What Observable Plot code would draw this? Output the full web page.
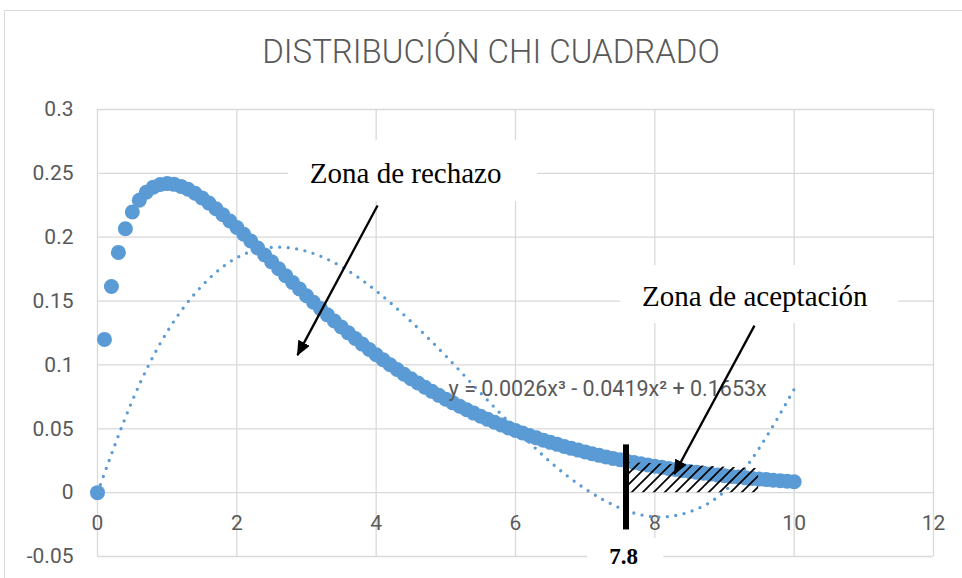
<!DOCTYPE html>
<html>
<head>
<meta charset="utf-8">
<script src="https://cdn.jsdelivr.net/npm/d3@7"></script>
<script src="https://cdn.jsdelivr.net/npm/@observablehq/plot@0.6"></script>
<style>
  body { margin: 0; background: #fff; }
  #wrap { position: relative; width: 962px; height: 578px; overflow: hidden; background: #fff; }
  #frame { position: absolute; left: 4px; top: 10px; width: 1000px; height: 1000px; border: 1px solid #d9d9d9; box-sizing: border-box; pointer-events: none; }
  #title { height: 90px; line-height: 104px; padding-left: 20px; box-sizing: border-box; text-align: center; font-family: Roboto, sans-serif; font-weight: 300; font-size: 33px; color: #595959; white-space: nowrap; }
  #chart svg { display: block; }
</style>
</head>
<body>
<div id="wrap">
  <div id="frame"></div>
  <div id="title">DISTRIBUCIÓN CHI CUADRADO</div>
  <div id="chart"></div>
</div>
<script>
// ---- data ----
const chiX = [0,0.1,0.2,0.3,0.4,0.5,0.6,0.7,0.8,0.9,1,
  1.1,1.2,1.3,1.4,1.5,1.6,1.7,1.8,1.9,2,
  2.1,2.2,2.3,2.4,2.5,2.6,2.7,2.8,2.9,3,
  3.1,3.2,3.3,3.4,3.5,3.6,3.7,3.8,3.9,4,
  4.1,4.2,4.3,4.4,4.5,4.6,4.7,4.8,4.9,5,
  5.1,5.2,5.3,5.4,5.5,5.6,5.7,5.8,5.9,6,
  6.1,6.2,6.3,6.4,6.5,6.6,6.7,6.8,6.9,7,
  7.1,7.2,7.3,7.4,7.5,7.6,7.7,7.8,7.9,8,
  8.1,8.2,8.3,8.4,8.5,8.6,8.7,8.8,8.9,9,
  9.1,9.2,9.3,9.4,9.5,9.6,9.7,9.8,9.9,10];
const chiY = [0,0.1200,0.1614,0.1881,0.2066,0.2197,0.2289,0.2352,0.2392,0.2413,0.2420,
  0.2414,0.2398,0.2375,0.2344,0.2308,0.2267,0.2223,0.2176,0.2127,0.2076,
  0.2023,0.1970,0.1916,0.1861,0.1807,0.1753,0.1699,0.1646,0.1594,0.1542,
  0.1491,0.1441,0.1392,0.1344,0.1297,0.1251,0.1207,0.1163,0.1121,0.1080,
  0.1040,0.1001,0.0964,0.0927,0.0892,0.0858,0.0825,0.0793,0.0762,0.0732,
  0.0703,0.0676,0.0649,0.0623,0.0598,0.0574,0.0551,0.0529,0.0507,0.0487,
  0.0467,0.0447,0.0429,0.0411,0.0394,0.0378,0.0362,0.0347,0.0333,0.0319,
  0.0305,0.0292,0.0280,0.0268,0.0257,0.0246,0.0236,0.0226,0.0216,0.0207,
  0.0198,0.0189,0.0181,0.0173,0.0166,0.0159,0.0152,0.0145,0.0139,0.0133,
  0.0127,0.0122,0.0116,0.0111,0.0106,0.0102,0.0097,0.0093,0.0089,0.0085];

// polynomial trend line (dotted)
const trendX = [0,0.5,1,1.5,2,2.5,3,3.5,4,4.5,5,5.5,6,6.5,7,7.5,8,8.5,9,9.5,10];
const trendY = [0,0.072,0.126,0.162,0.184,0.192,0.189,0.177,0.158,0.134,0.107,0.078,0.050,0.024,0.003,-0.012,-0.019,-0.015,0.001,0.035,0.081];

const xTicks = [0,2,4,6,8,10,12];
const xTickLabels = ["0","2","4","6","8","10","12"];
const yTicks = [-0.05,0,0.05,0.1,0.15,0.2,0.25,0.3];
const yTickLabels = ["-0.05","0","0.05","0.1","0.15","0.2","0.25","0.3"];

const equation = "y = 0.0026x³ - 0.0419x² + 0.1653x";
const equationAt = [5.04, 0.0812];

// critical value marker
const criticalX = 7.586;
const criticalSpan = [-0.0292, 0.0374];
const criticalLabel = "7.8";
const criticalLabelAt = [7.553, -0.0498];

// hatched acceptance area
const hatchX = [7.625, 9.49];
const hatchTop = [0.0237, 0.0188];

// annotation text boxes
const noteText = ["Zona de rechazo", "Zona de aceptación"];
const noteAt = [[4.423, 0.25], [9.434, 0.1537]];
const noteBox = [[2.743, 6.318, 0.2279, 0.2756], [7.51, 11.50, 0.1323, 0.1778]];
const labelBox = [7.036, 8.128, -0.0658, -0.036];

// arrows [x1, y1, x2, y2]
const arrowsData = [[4.02, 0.2248, 2.87, 0.1077], [9.43, 0.1308, 8.28, 0.0146]];

// ---- build tables ----
const chi = chiX.map((x, i) => ({x, y: chiY[i]}));
const trend = trendX.map((x, i) => ({x, y: trendY[i]}));
const hatch = hatchX.map((x, i) => ({x, top: hatchTop[i]}));
const notes = noteText.map((t, i) => ({t, x: noteAt[i][0], y: noteAt[i][1]}));
const boxes = noteBox.concat([labelBox]).map(b => ({x1: b[0], x2: b[1], y1: b[2], y2: b[3]}));
const arrows = arrowsData.map(a => ({x1: a[0], y1: a[1], x2: a[2], y2: a[3]}));
const blue = "#5B9BD5";
const gray = "#595959";
const grid = "#d9d9d9";

const plot = Plot.plot({
  width: 962,
  height: 488,
  marginTop: 19,
  marginBottom: 22,
  marginLeft: 97,
  marginRight: 29,
  x: {domain: [0, 12], axis: null},
  y: {domain: [-0.05, 0.3], axis: null},
  style: {fontFamily: "Roboto, sans-serif", fontSize: "21px", color: gray, background: "transparent", overflow: "visible"},
  marks: [
    Plot.ruleX(xTicks, {x: d => d, stroke: grid, strokeWidth: 1.3, strokeOpacity: 1}),
    Plot.ruleY(yTicks, {y: d => d, stroke: grid, strokeWidth: 1.3, strokeOpacity: 1}),
    Plot.text(yTicks, {y: d => d, frameAnchor: "left", dx: -24, textAnchor: "end", text: (d, i) => yTickLabels[i], fontSize: 21, fill: gray}),
    Plot.text(xTicks, {x: d => d, y: () => 0, dy: 31, text: (d, i) => xTickLabels[i], fontSize: 21, fill: gray}),
    Plot.line(trend, {x: "x", y: "y", curve: "natural", stroke: blue, strokeWidth: 3.3, strokeDasharray: "0 8.5", strokeLinecap: "round"}),
    Plot.dot(chi, {x: "x", y: "y", r: 7.5, fill: blue, stroke: "none"}),
    Plot.areaY(hatch, {x: "x", y: "top", fill: "url(#hatch)"}),
    Plot.ruleX([criticalX], {x: d => d, y1: () => criticalSpan[0], y2: () => criticalSpan[1], stroke: "black", strokeWidth: 6}),
    Plot.text([equation], {x: () => equationAt[0], y: () => equationAt[1], text: d => d, textAnchor: "start", fontSize: 21.5, fill: gray}),
    Plot.rect(boxes, {x1: "x1", x2: "x2", y1: "y1", y2: "y2", fill: "white"}),
    Plot.text(notes, {x: "x", y: "y", text: "t", fontFamily: "'Liberation Serif', 'Times New Roman', serif", fontSize: 29, fill: "black"}),
    Plot.text([criticalLabel], {x: () => criticalLabelAt[0], y: () => criticalLabelAt[1], text: d => d, fontFamily: "'Liberation Serif', 'Times New Roman', serif", fontSize: 23, fontWeight: "bold", fill: "black"}),
    Plot.link(arrows, {x1: "x1", y1: "y1", x2: "x2", y2: "y2", stroke: "black", strokeWidth: 2.3})
  ]
});

const ns = "http://www.w3.org/2000/svg";
const defs = document.createElementNS(ns, "defs");
defs.innerHTML =
  '<pattern id="hatch" patternUnits="userSpaceOnUse" width="11" height="11">' +
  '<path d="M-1,12 L12,-1 M-1,1 L1,-1 M10,12 L12,10" stroke="black" stroke-width="1.7" fill="none"/></pattern>' +
  '<marker id="ah" viewBox="0 0 15 13" refX="14" refY="6.5" markerWidth="15" markerHeight="13" markerUnits="userSpaceOnUse" orient="auto">' +
  '<path d="M0,0 L15,6.5 L0,13 Z" fill="black"/></marker>';
plot.insertBefore(defs, plot.firstChild);
plot.querySelectorAll('g[aria-label="link"] path').forEach(p => p.setAttribute("marker-end", "url(#ah)"));

document.getElementById("chart").appendChild(plot);
</script>
</body>
</html>
